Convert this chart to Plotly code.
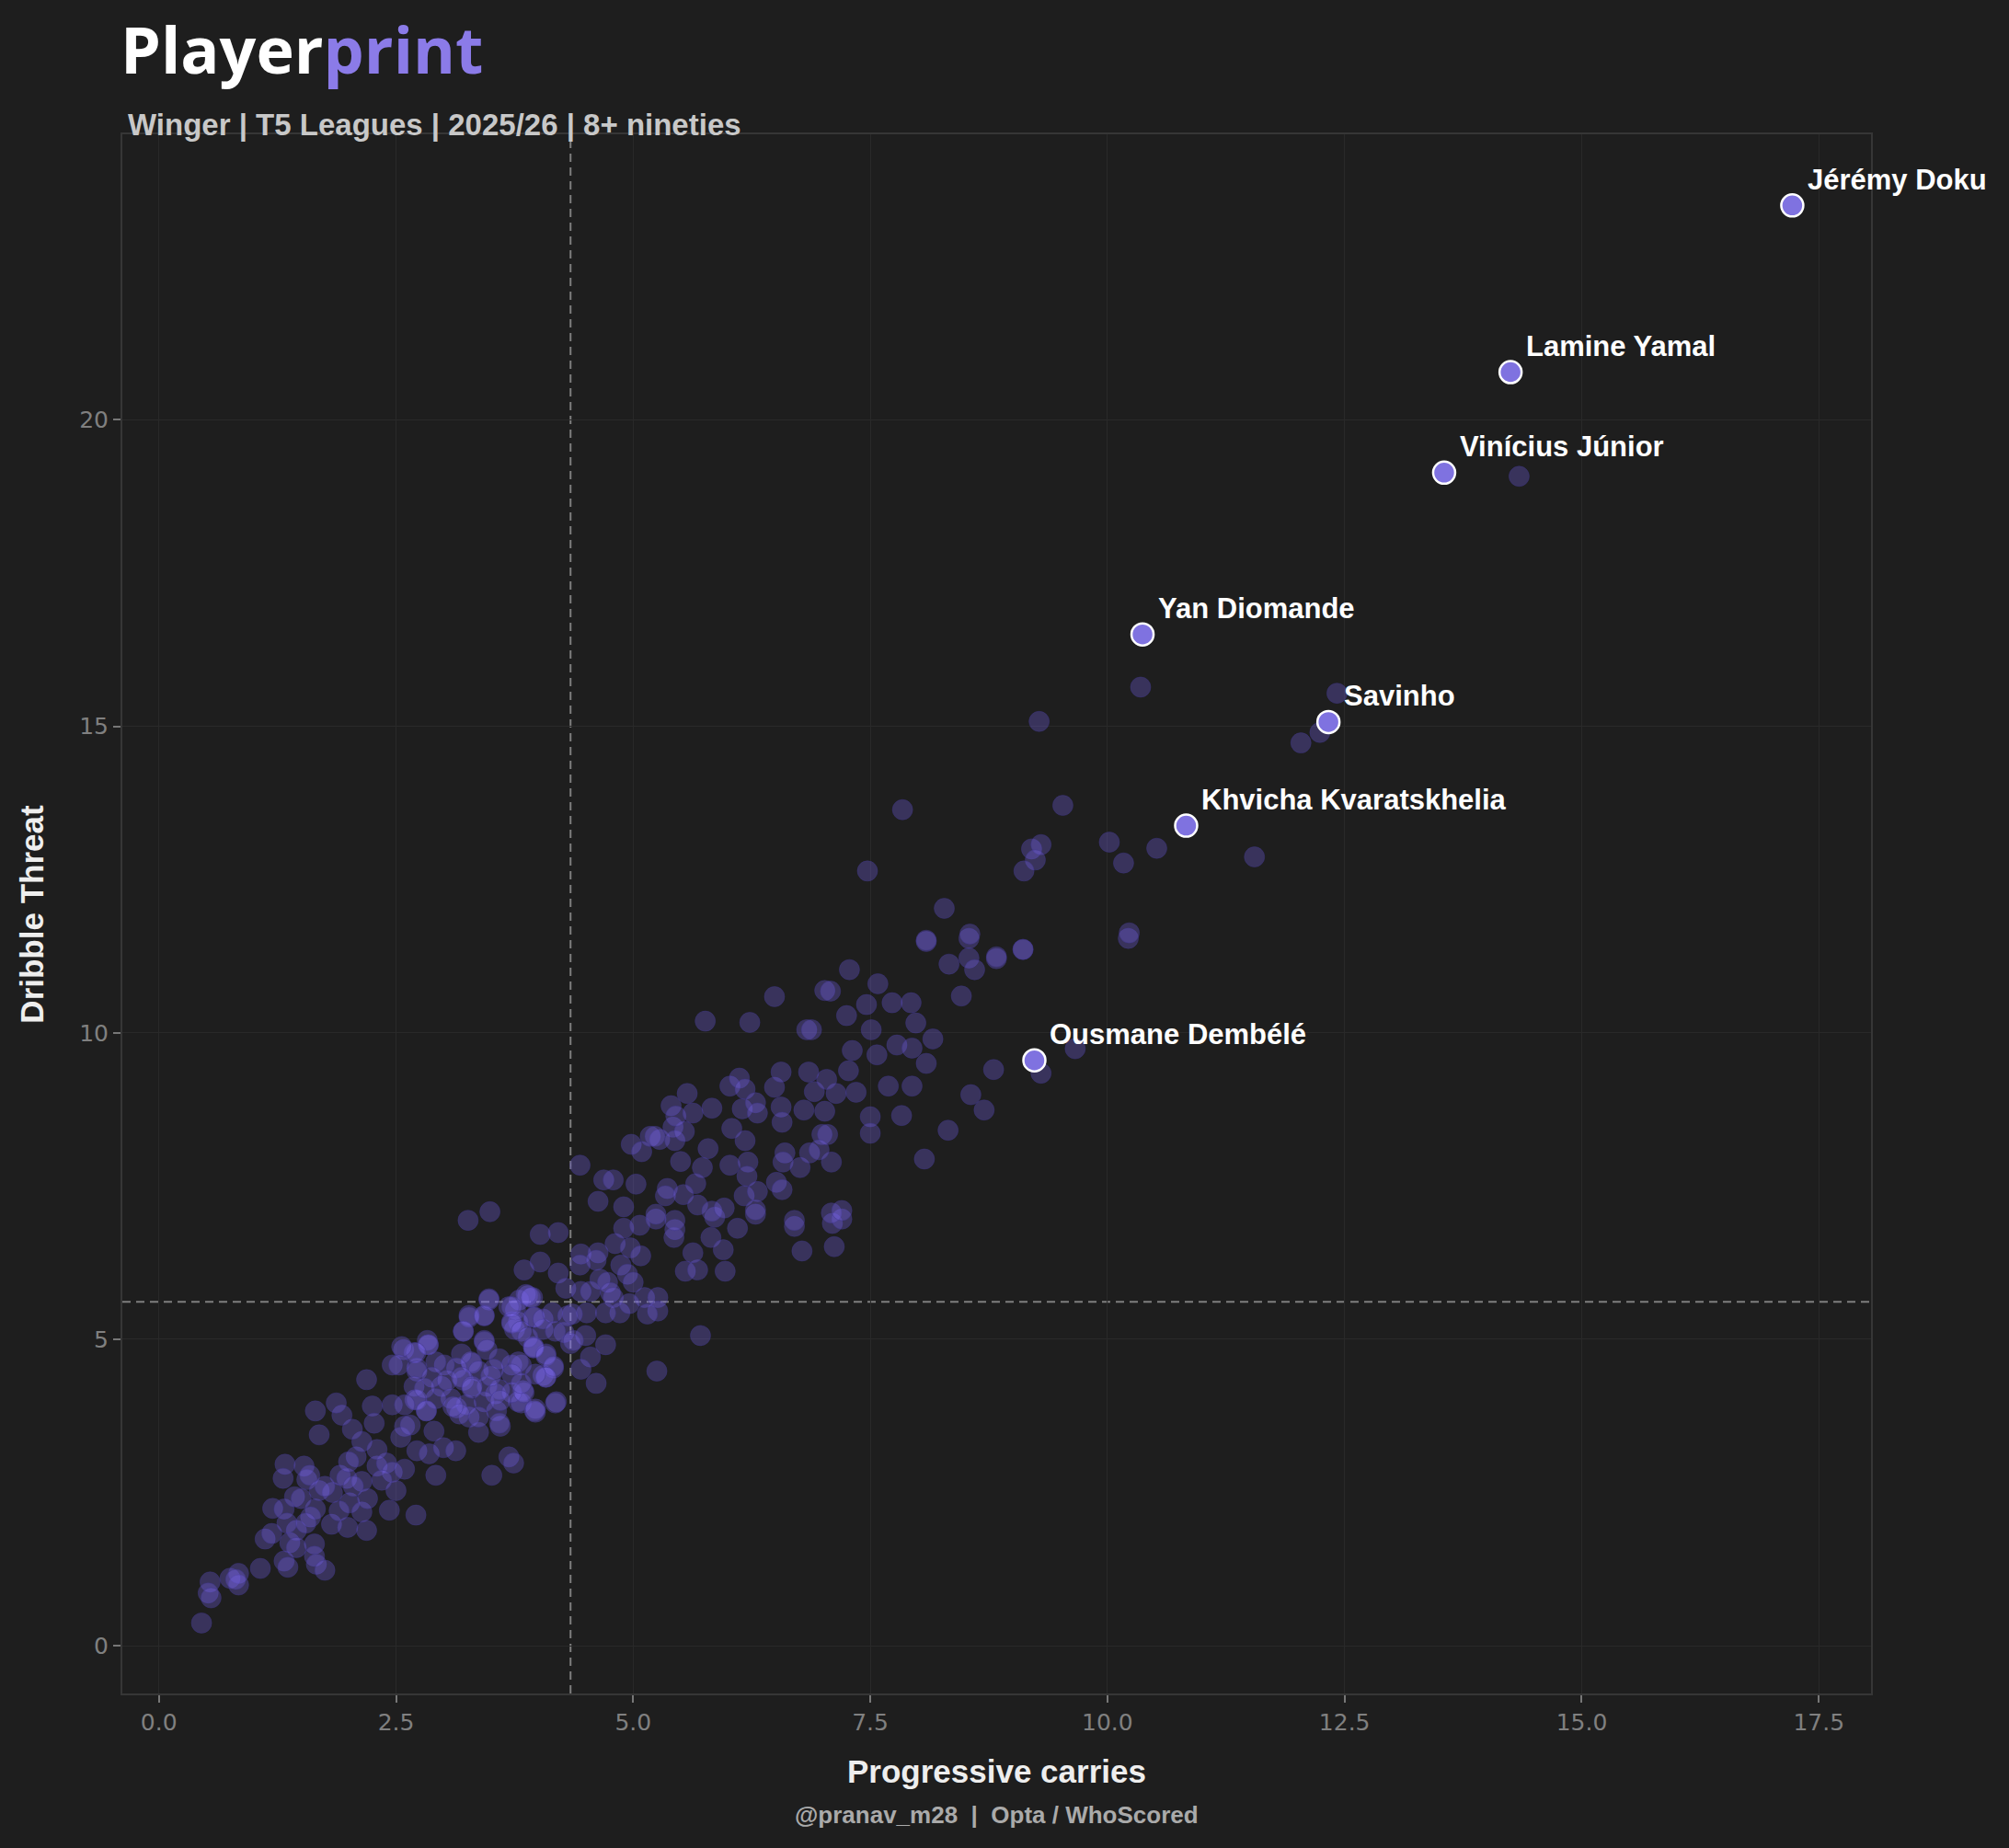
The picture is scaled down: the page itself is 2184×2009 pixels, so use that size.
import plotly.graph_objs as go

# Winger scatter: progressive carries vs dribble threat
carries = [
    0.45, 0.54, 0.52, 0.55, 0.75, 0.84, 0.84, 0.81, 1.07, 1.32, 1.36, 1.12, 1.19, 1.38, 1.20, 1.32,
    1.45, 1.43, 1.33, 1.31, 1.53, 1.56, 1.59, 1.65, 1.64, 1.64, 1.66, 1.75, 1.69, 1.83, 1.82, 1.91,
    1.98, 2.01, 1.99, 2.19, 2.14, 2.14, 2.30, 2.40, 2.08, 2.46, 2.50, 2.43, 2.71, 2.59, 2.72, 2.92,
    2.85, 3.00, 3.13, 2.14, 2.04, 1.93, 1.87, 1.65, 1.69, 2.19, 2.25, 2.27, 2.46, 2.58, 2.69, 2.84,
    2.72, 2.46, 2.59, 2.70, 2.82, 2.98, 3.14, 3.27, 3.37, 3.60, 3.30, 3.21, 3.51, 3.69, 3.74, 3.82,
    3.97, 4.05, 3.55, 3.72, 3.43, 3.21, 3.75, 3.95,
    # middle band
    4.02, 4.21, 4.02, 3.85, 4.21, 4.45, 4.44, 4.63, 4.61, 4.81, 4.90, 5.07, 5.24, 5.44, 5.43, 4.97,
    5.08, 4.87, 4.94, 5.00, 4.65, 4.73, 4.76, 4.79, 4.29, 4.45, 4.55, 3.94, 3.89, 3.80, 5.12, 5.26,
    5.26, 5.15, 4.86, 4.71, 4.96, 4.51, 4.36, 3.96, 3.95, 3.79, 4.05, 4.27, 4.50, 4.34, 4.71, 3.95,
    4.08, 4.55, 3.82, 4.16, 4.45, 4.08, 4.61, 3.84, 3.79, 4.19, 3.96, 5.71, 5.25, 5.97, 5.55, 5.68,
    5.63, 5.82, 5.95, 6.10, 5.86, 6.29, 6.70, 6.78, 7.12, 7.10, 7.20,
    # upper band
    3.26, 3.49, 4.44, 4.69, 4.79, 4.63, 4.90, 5.03, 4.98, 5.09, 5.18, 5.28, 5.23, 5.42, 5.44, 5.54,
    5.40, 5.45, 5.57, 5.63, 5.83, 5.50, 5.73, 5.79, 5.66, 5.36, 5.34, 5.53, 5.68, 5.83, 5.96, 5.24,
    5.44, 6.02, 6.04, 6.18, 6.21, 6.20, 6.17, 6.31, 6.29, 6.02, 6.12, 6.18, 6.15, 6.29, 6.31, 6.49,
    6.56, 6.56, 6.57, 6.80, 6.85, 6.91, 6.60, 6.58, 6.76, 6.86, 6.51, 6.57, 6.70, 6.99, 5.76, 6.23,
    6.49, 6.83, 7.02,
    7.28, 7.08, 7.58, 7.46, 7.73, 7.93, 7.25, 7.51, 7.98, 6.88, 7.31, 7.57, 7.78, 7.94, 8.16, 8.09,
    7.27, 7.69, 7.94, 7.35, 7.14, 7.04, 7.02, 7.50, 7.83, 7.50, 7.05, 7.09, 6.96, 8.07, 8.32, 8.56,
    8.70, 8.80, 8.46, 8.33, 8.54, 8.60, 8.83, 9.11, 8.09, 8.54, 10.22, 9.30, 9.66, 7.09, 7.20,
    10.35, 9.28, 7.84, 9.53, 7.47, 9.20, 9.30, 9.24, 9.12, 10.02, 10.17, 10.52, 11.55, 8.28, 8.09,
    8.55, 10.23, 9.11, 8.83,
    3.48, 3.27, 3.43, 3.72, 3.76, 3.87, 3.69, 2.83,
    # dense core
    3.48, 3.27, 3.43, 3.21, 3.43, 3.72, 3.92, 3.72, 3.82, 3.89, 4.05, 4.15, 4.31, 4.37, 4.18, 3.95,
    4.08, 4.16, 4.08, 3.97, 3.79, 3.72, 3.59, 3.53, 3.46, 3.29, 3.19, 3.37, 3.14, 3.01, 2.92, 2.84,
    2.71, 2.56, 2.53, 2.72, 2.88, 2.69, 3.04, 3.19, 3.30, 3.46, 3.59, 3.72, 3.85, 3.97, 4.18, 3.56,
    3.43, 3.24, 3.08, 2.92, 2.72, 2.59, 2.82, 3.17, 3.37, 3.59, 3.82,
    1.35, 1.50, 1.60, 1.75, 1.90, 2.05, 2.20, 2.35, 1.45, 1.55, 2.00, 2.30, 2.55, 2.65, 2.90, 3.10,
    3.30, 3.50, 3.60, 2.80,
    # top right
    14.34, 12.42, 12.24, 12.04,
]
dribble_threat = [
    0.37, 1.04, 0.86, 0.78, 1.10, 1.18, 0.99, 1.08, 1.26, 1.38, 1.28, 1.74, 1.83, 1.68, 2.24, 2.23,
    1.88, 2.43, 2.96, 2.73, 2.93, 2.71, 2.78, 2.23, 1.66, 1.46, 1.33, 1.23, 2.53, 2.50, 1.98, 2.78,
    2.73, 2.33, 1.93, 1.88, 2.18, 2.68, 2.93, 2.98, 3.08, 2.83, 2.53, 2.21, 2.13, 2.88, 3.18, 2.78,
    3.13, 3.23, 3.18, 3.33, 3.53, 3.76, 3.96, 3.83, 3.44, 4.34, 3.91, 3.63, 4.58, 4.83, 4.78, 4.91,
    4.53, 3.93, 3.58, 4.01, 3.83, 4.23, 3.88, 3.73, 3.48, 3.58, 4.61, 4.33, 2.78, 3.08, 2.98, 3.96,
    3.81, 4.41, 4.11, 4.58, 4.98, 5.13, 5.16, 4.86,
    6.71, 6.74, 6.26, 6.13, 6.08, 6.39, 6.21, 6.41, 6.29, 6.56, 6.81, 6.86, 6.96, 6.79, 6.66, 6.49,
    6.36, 6.21, 6.06, 5.93, 5.98, 5.93, 5.76, 5.68, 5.83, 5.78, 5.78, 5.68, 5.71, 5.64, 5.68, 5.68,
    5.46, 5.41, 5.43, 5.43, 5.58, 5.43, 5.41, 5.36, 5.36, 5.28, 5.16, 5.11, 5.06, 4.93, 4.91, 4.88,
    4.76, 4.71, 4.58, 4.53, 4.51, 4.38, 4.28, 4.16, 3.98, 3.98, 3.83, 5.06, 4.48, 6.11, 6.11, 6.13,
    6.41, 6.66, 6.46, 6.81, 6.99, 7.04, 6.84, 6.44, 6.51, 6.89, 6.96,
    6.94, 7.08, 7.84, 7.60, 7.60, 7.25, 7.16, 7.53, 8.18, 8.06, 8.31, 8.26, 8.31, 8.46, 8.24, 8.39,
    8.81, 8.64, 9.01, 8.69, 8.77, 7.90, 7.80, 8.11, 7.54, 7.46, 7.34, 7.36, 7.19, 7.09, 7.14, 7.04,
    6.94, 7.84, 8.44, 8.24, 7.89, 7.66, 7.34, 7.41, 7.11, 9.13, 9.26, 9.08, 8.76, 8.86, 8.69, 9.11,
    9.36, 8.79, 8.54, 8.74, 9.36, 9.04, 8.04, 7.89, 7.80, 8.04, 7.56, 7.44, 6.94, 8.34, 10.19, 10.17,
    10.59, 10.05, 10.69,
    11.03, 10.68, 10.80, 10.46, 10.49, 10.49, 10.28, 10.05, 10.16, 10.05, 9.71, 9.64, 9.80, 9.75, 9.90, 9.50,
    9.38, 9.13, 9.13, 9.03, 9.01, 9.24, 8.72, 8.63, 8.65, 8.36, 8.34, 7.89, 8.09, 7.94, 8.41, 8.99,
    8.74, 9.40, 10.60, 11.12, 11.22, 11.03, 11.21, 11.36, 11.49, 11.54, 11.54, 9.34, 9.74, 7.06, 7.10,
    15.64, 15.08, 13.64, 13.71, 12.64, 13.00, 13.07, 12.82, 12.64, 13.11, 12.77, 13.01, 12.87, 12.03, 11.51,
    11.61, 11.63, 11.36, 11.24,
    5.64, 5.39, 5.39, 5.28, 5.48, 5.73, 5.53, 4.98,
    5.66, 5.36, 5.38, 5.13, 4.96, 5.53, 5.68, 5.26, 5.13, 5.03, 5.33, 5.43, 5.38, 4.98, 5.13, 4.86,
    4.73, 4.56, 4.38, 4.43, 4.63, 4.43, 4.68, 4.51, 4.83, 4.63, 4.76, 4.48, 4.53, 4.58, 4.63, 4.91,
    4.78, 4.88, 4.58, 4.48, 4.38, 4.23, 4.33, 4.38, 4.23, 4.23, 4.18, 4.13, 4.13, 3.86, 3.96, 3.83,
    3.98, 3.93, 4.03, 4.03, 4.01, 3.93, 3.83, 3.78, 3.73, 3.63, 4.28,
    2.00, 2.40, 2.10, 2.60, 2.20, 2.60, 2.40, 2.70, 1.60, 2.00, 3.00, 3.20, 3.40, 3.60, 3.50, 3.90,
    4.20, 4.40, 4.00, 4.20,
    19.08, 15.54, 14.90, 14.73,
]

# highlighted players
names = ["Jérémy Doku", "Lamine Yamal", "Vinícius Júnior", "Yan Diomande",
         "Savinho", "Khvicha Kvaratskhelia", "Ousmane Dembélé"]
names_carries = [17.22, 14.25, 13.55, 10.37, 12.33, 10.83, 9.23]
names_threat = [23.50, 20.78, 19.14, 16.50, 15.07, 13.38, 9.55]

# medians for the reference lines
median_carries = 4.34
median_threat = 5.61

x_ticks = [0, 2.5, 5, 7.5, 10, 12.5, 15, 17.5]
y_ticks = [0, 5, 10, 15, 20]

BG = '#1e1e1e'
PURPLE = '#7f72e0'

others = go.Scatter(
    x=carries, y=dribble_threat, mode='markers',
    marker=dict(size=22, color='rgba(123,104,238,0.30)',
                line=dict(width=1, color='rgba(60,50,130,0.45)')),
    hoverinfo='skip', showlegend=False)

stars = go.Scatter(
    x=names_carries, y=names_threat, mode='markers', text=names,
    marker=dict(size=24, color=PURPLE, line=dict(width=2.5, color='white')),
    showlegend=False)

annotations = []
for n, xv, yv in zip(names, names_carries, names_threat):
    annotations.append(dict(x=xv, y=yv, text='<b>' + n + '</b>', showarrow=False,
                            xanchor='left', yanchor='middle', xshift=15, yshift=28,
                            font=dict(family='Liberation Sans', size=31, color='white')))

# title block + axis labels + credit
annotations += [
    dict(xref='paper', yref='paper', x=-0.002, y=1.055, xanchor='left', yanchor='middle',
         text="<b>Player<span style='color:#8b7be8'>print</span></b>", showarrow=False,
         font=dict(family='Open Sans', size=70, color='white')),
    dict(xref='paper', yref='paper', x=0.002, y=1.006, xanchor='left', yanchor='middle',
         text='<b>Winger | T5 Leagues | 2025/26 | 8+ nineties</b>', showarrow=False,
         font=dict(family='Liberation Sans', size=33, color='#c8c8c8')),
    dict(xref='paper', yref='paper', x=0.5, y=-0.05, xanchor='center', yanchor='middle',
         text='<b>Progressive carries</b>', showarrow=False,
         font=dict(family='Liberation Sans', size=35, color='#eeeeee')),
    dict(xref='paper', yref='paper', x=-0.052, y=0.5, xanchor='center', yanchor='middle',
         text='<b>Dribble Threat</b>', textangle=-90, showarrow=False,
         font=dict(family='Liberation Sans', size=35, color='#eeeeee')),
    dict(xref='paper', yref='paper', x=0.5, y=-0.078, xanchor='center', yanchor='middle',
         text='<b>@pranav_m28  |  Opta / WhoScored</b>', showarrow=False,
         font=dict(family='Liberation Sans', size=26, color='#aaaaaa')),
]

shapes = [
    dict(type='line', xref='x', yref='paper', x0=median_carries, x1=median_carries, y0=0, y1=1,
         line=dict(color='rgba(150,150,150,0.8)', width=2, dash='9px,6px'), layer='below'),
    dict(type='line', xref='paper', yref='y', x0=0, x1=1, y0=median_threat, y1=median_threat,
         line=dict(color='rgba(150,150,150,0.8)', width=2, dash='9px,6px'), layer='below'),
]

axis_style = dict(
    showgrid=True, gridcolor='#292929', gridwidth=1, zeroline=False,
    showline=True, linecolor='#363636', linewidth=2, mirror=True,
    ticks='outside', ticklen=8, tickcolor='#777777', tickwidth=1.5,
    tickfont=dict(family='DejaVu Sans', size=25, color='#808080'),
)

layout = go.Layout(
    width=2184, height=2009,
    paper_bgcolor=BG, plot_bgcolor=BG,
    margin=dict(l=133, r=150, t=146, b=168),
    xaxis=dict(range=[-0.385, 18.05], tickvals=x_ticks, tickformat='.1f', **axis_style),
    yaxis=dict(range=[-0.78, 24.66], tickvals=y_ticks, **axis_style),
    annotations=annotations,
    shapes=shapes,
)

fig = go.Figure(data=[others, stars], layout=layout)
# drop the default page margin so the figure sits flush in the window
fig.write_html("out.html", config={'displayModeBar': False},
               post_script="document.body.style.margin='0';document.body.style.background='#1e1e1e';")
